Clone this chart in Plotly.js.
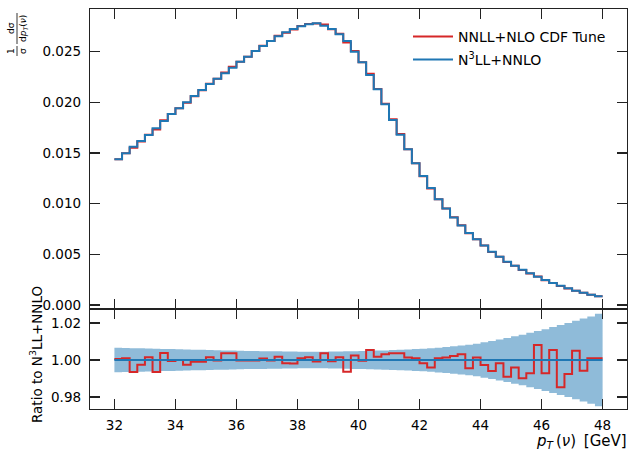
<!DOCTYPE html>
<html><head><meta charset="utf-8">
<script src="https://cdn.plot.ly/plotly-3.0.1.min.js"></script>
<style>html,body{margin:0;padding:0;background:#fff}</style>
</head><body><div id="chart" style="width:636px;height:450px"></div>
<script>
// ---- data ----
const binEdges = [32.0,32.25,32.5,32.75,33.0,33.25,33.5,33.75,34.0,34.25,34.5,34.75,35.0,35.25,35.5,35.75,
  36.0,36.25,36.5,36.75,37.0,37.25,37.5,37.75,38.0,38.25,38.5,38.75,39.0,39.25,39.5,39.75,
  40.0,40.25,40.5,40.75,41.0,41.25,41.5,41.75,42.0,42.25,42.5,42.75,43.0,43.25,43.5,43.75,
  44.0,44.25,44.5,44.75,45.0,45.25,45.5,45.75,46.0,46.25,46.5,46.75,47.0,47.25,47.5,47.75,48.0];

// N3LL+NNLO normalised distribution per bin
const n3llNnlo = [0.01437,0.01496,0.01561,0.01617,0.01677,0.01742,0.01815,0.01884,
  0.01940,0.01999,0.02061,0.02120,0.02179,0.02232,0.02285,0.02340,
  0.02400,0.02449,0.02505,0.02554,0.02604,0.02650,0.02689,0.02722,
  0.02748,0.02768,0.02778,0.02755,0.02722,0.02670,0.02604,0.02498,
  0.02395,0.02268,0.02127,0.01979,0.01824,0.01680,0.01535,0.01397,
  0.01272,0.01153,0.01043,0.00951,0.00863,0.00785,0.00710,0.00648,
  0.00588,0.00526,0.00476,0.00427,0.00388,0.00348,0.00313,0.00279,
  0.00247,0.00217,0.00190,0.00165,0.00141,0.00121,0.00102,0.00086];

// Ratio NNLL+NLO CDF Tune / N3LL+NNLO per bin
const ratioNnll = [1.0005,1.0010,0.9935,0.9975,1.0015,0.9935,1.0038,0.9995,
  1.0000,0.9975,0.9990,0.9990,1.0015,0.9998,1.0036,1.0036,
  0.9997,0.9997,0.9997,1.0008,0.9998,1.0018,0.9983,0.9981,
  1.0010,1.0015,0.9992,1.0036,0.9993,1.0015,0.9937,1.0024,
  0.9996,1.0054,1.0018,1.0031,1.0036,1.0036,1.0014,1.0009,
  0.9982,0.9960,1.0009,1.0013,1.0022,1.0031,0.9955,1.0014,
  0.9973,0.9941,0.9982,0.9910,0.9960,0.9901,0.9928,1.0081,
  0.9928,1.0054,0.9852,0.9924,1.0050,0.9942,1.0009,1.0009];

// relative half-width of the N3LL+NNLO uncertainty band per bin
const bandHalfWidth = [0.0066,0.0065,0.0064,0.0063,0.0062,0.0061,0.0060,0.0059,
  0.0058,0.0057,0.0056,0.0055,0.0054,0.0053,0.0052,0.0051,
  0.0050,0.0049,0.0049,0.0048,0.0047,0.0047,0.0046,0.0046,
  0.0045,0.0045,0.0045,0.0045,0.0046,0.0046,0.0047,0.0048,
  0.0049,0.0050,0.0051,0.0052,0.0054,0.0055,0.0057,0.0059,
  0.0061,0.0064,0.0067,0.0070,0.0074,0.0078,0.0083,0.0088,
  0.0096,0.0103,0.0111,0.0119,0.0128,0.0137,0.0147,0.0157,
  0.0167,0.0178,0.0189,0.0200,0.0212,0.0224,0.0236,0.0250];

const seriesNames = ['NNLL+NLO CDF Tune', 'N<sup>3</sup>LL+NNLO'];
const xTickVals = [32,34,36,38,40,42,44,46,48];
const yTopTickVals = [0.000,0.005,0.010,0.015,0.020,0.025];
const yRatioTickVals = [0.98,1.00,1.02];

// ---- derived ----
const RED = '#d62728', BLUE = '#1f77b4';
const nnllTop = n3llNnlo.map((v,i)=>v*ratioNnll[i]);
const ratioRef = n3llNnlo.map(v=>v/v);
const bandLo = ratioRef.map((v,i)=>v-bandHalfWidth[i]);
const bandHi = ratioRef.map((v,i)=>v+bandHalfWidth[i]);
const stepY = v => v.concat([v[v.length-1]]);

const traces = [
  {x: binEdges, y: stepY(nnllTop), xaxis:'x2', yaxis:'y', mode:'lines', legend:'legend',
   line:{shape:'hv', color:RED, width:2}, name: seriesNames[0]},
  {x: binEdges, y: stepY(n3llNnlo), xaxis:'x2', yaxis:'y', mode:'lines', legend:'legend2',
   line:{shape:'hv', color:BLUE, width:2}, name: seriesNames[1]},
  {x: binEdges, y: stepY(bandLo), xaxis:'x', yaxis:'y2', mode:'lines',
   line:{shape:'hv', width:0, color:'rgba(0,0,0,0)'}, showlegend:false, hoverinfo:'skip'},
  {x: binEdges, y: stepY(bandHi), xaxis:'x', yaxis:'y2', mode:'lines',
   line:{shape:'hv', width:0, color:'rgba(0,0,0,0)'}, fill:'tonexty',
   fillcolor:'rgba(31,119,180,0.5)', showlegend:false, hoverinfo:'skip'},
  {x: binEdges, y: stepY(ratioNnll), xaxis:'x', yaxis:'y2', mode:'lines',
   line:{shape:'hv', color:RED, width:2}, showlegend:false},
  {x: binEdges, y: stepY(ratioRef), xaxis:'x', yaxis:'y2', mode:'lines',
   line:{shape:'hv', color:BLUE, width:2}, showlegend:false}
];

const FONT = 'DejaVu Sans, sans-serif';
const AX = {
  showline:true, linecolor:'#222', linewidth:1.2, mirror:'ticks',
  ticks:'inside', ticklen:10, tickwidth:1.2, tickcolor:'#222',
  showgrid:false, zeroline:false,
  tickfont:{family:FONT, size:13.5, color:'#000'}
};

const px2x = p => (p-90)/537;
const px2y = p => (409-p)/400;
const LEG = {xanchor:'left', yanchor:'middle', bgcolor:'rgba(255,255,255,0)', borderwidth:0,
  itemwidth:40, font:{family:FONT, size:14, color:'#000'}};

const layout = {
  width:636, height:450,
  margin:{l:90, r:9, t:9, b:41},
  paper_bgcolor:'#fff', plot_bgcolor:'#fff',
  font:{family:FONT, color:'#000'},
  showlegend:true,
  legend: Object.assign({}, LEG, {x:px2x(408), y:px2y(37)}),
  legend2: Object.assign({}, LEG, {x:px2x(408), y:px2y(60)}),
  xaxis: Object.assign({}, AX, {domain:[0,1], anchor:'y2', range:[31.2,48.8],
          tickmode:'array', tickvals:xTickVals, ticklabelstandoff:4}),
  xaxis2: Object.assign({}, AX, {domain:[0,1], anchor:'y', range:[31.2,48.8], matches:'x',
          tickmode:'array', tickvals:xTickVals, showticklabels:false}),
  yaxis: Object.assign({}, AX, {domain:[0.25,1], anchor:'x2', range:[-0.000394,0.02919],
          tickmode:'array', tickvals:yTopTickVals, tickformat:'.3f', ticklabelstandoff:5}),
  yaxis2: Object.assign({}, AX, {domain:[0,0.25], anchor:'x', range:[0.9735,1.0276],
          tickmode:'array', tickvals:yRatioTickVals, tickformat:'.2f', ticklabelstandoff:5}),
  annotations:[
    {text:"<i>p</i><sub><i>T</i></sub>&#8201;(<i>ν</i>)&#8201; [GeV]", xref:'paper', yref:'paper',
     x:1.003, y:px2y(441), xanchor:'right', yanchor:'middle', showarrow:false,
     font:{family:FONT, size:15, color:'#000'}},
    {text:'Ratio to N<sup>3</sup>LL+NNLO', xref:'paper', yref:'paper',
     x:px2x(36), y:px2y(355), xanchor:'center', yanchor:'middle', textangle:-90, showarrow:false,
     font:{family:FONT, size:13.5, color:'#000'}},
    {text:'1<br>σ', xref:'paper', yref:'paper',
     x:px2x(17), y:px2y(51), xanchor:'center', yanchor:'middle', textangle:-90, showarrow:false,
     font:{family:FONT, size:9, color:'#000'}},
    {text:'dσ<br>d<i>p</i><sub><i>T</i></sub>(<i>ν</i>)', xref:'paper', yref:'paper',
     x:px2x(17), y:px2y(29), xanchor:'center', yanchor:'middle', textangle:-90, showarrow:false,
     font:{family:FONT, size:9, color:'#000'}}
  ],
  shapes:[
    {type:'line', xref:'paper', yref:'paper', x0:px2x(17), x1:px2x(17), y0:px2y(46), y1:px2y(56),
     line:{color:'#000', width:0.8}},
    {type:'line', xref:'paper', yref:'paper', x0:px2x(17), x1:px2x(17), y0:px2y(13), y1:px2y(44),
     line:{color:'#000', width:0.8}}
  ]
};

Plotly.newPlot('chart', traces, layout, {displayModeBar:false, staticPlot:true});
</script>
</body></html>
